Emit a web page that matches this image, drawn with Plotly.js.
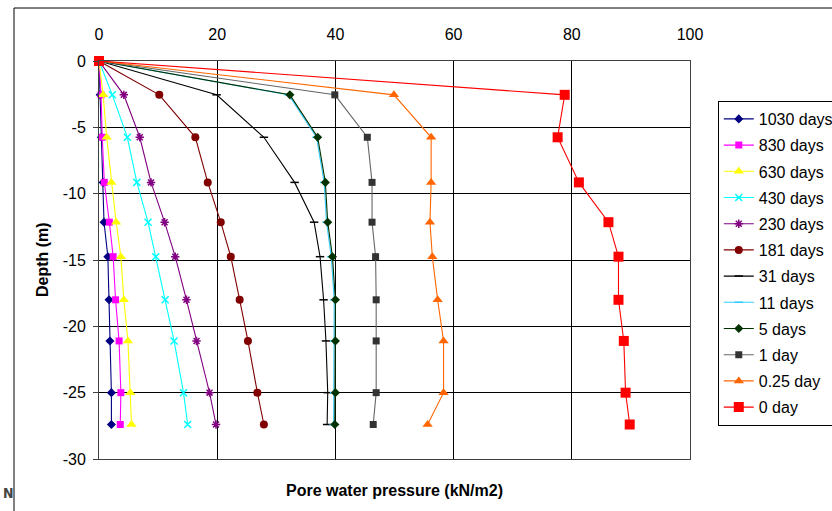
<!DOCTYPE html>
<html>
<head>
<meta charset="utf-8">
<script src="https://cdn.plot.ly/plotly-3.0.1.min.js"></script>
<style>html,body{margin:0;padding:0;background:#fff;}#chart{width:832px;height:511px;}</style>
</head>
<body>
<div id="chart"></div>
<script>
// Depth of measurement points (m)
var depth = [0, -2.55, -5.75, -9.15, -12.15, -14.75, -18, -21.1, -25, -27.4];

// Series names (legend order)
var seriesNames = ["1030 days", "830 days", "630 days", "430 days", "230 days", "181 days",
                   "31 days", "11 days", "5 days", "1 day", "0.25 day", "0 day"];

// Pore water pressure (kN/m2) for each series, at the depths above
var p1030 = [0, 0.2, 0.4, 0.7, 0.85, 1.5, 1.7, 1.85, 2.1, 2.1];
var p830  = [0, 0.35, 0.55, 0.9, 1.75, 2.4, 2.8, 3.4, 3.7, 3.6];
var p630  = [0, 0.7, 1.3, 2.1, 2.9, 3.7, 4.2, 4.9, 5.3, 5.5];
var p430  = [0, 2.25, 4.8, 6.4, 8.3, 9.6, 11.2, 12.7, 14.3, 15.0];
var p230  = [0, 4.2, 6.9, 8.8, 11.1, 12.9, 14.8, 16.5, 18.7, 19.8];
var p181  = [0, 10.2, 16.3, 18.4, 20.6, 22.3, 23.8, 25.2, 26.8, 27.9];
var p31   = [0, 19.9, 27.9, 33.1, 36.4, 37.4, 38.0, 38.4, 38.7, 38.6];
var p11   = [0, 32.1, 36.8, 38.1, 38.5, 39.3, 39.8, 39.8, 39.8, 39.7];
var p5    = [0, 32.3, 37.0, 38.3, 38.7, 39.5, 40.0, 40.0, 40.0, 39.9];
var p1    = [0, 39.9, 45.4, 46.2, 46.2, 46.8, 46.9, 46.9, 46.9, 46.4];
var p025  = [0, 49.9, 56.2, 56.2, 56.0, 56.4, 57.3, 58.3, 58.3, 55.6];
var p0    = [0, 78.8, 77.6, 81.2, 86.2, 87.9, 87.9, 88.8, 89.1, 89.8];

var seriesValues = [p1030, p830, p630, p430, p230, p181, p31, p11, p5, p1, p025, p0];

// Tick labels
var xTicks = [0, 20, 40, 60, 80, 100];
var yTicks = [0, -5, -10, -15, -20, -25, -30];
var yTickText = ["0", "-5", "-10", "-15", "-20", "-25", "-30"];

var styles = [
  {line: "#000080", mcolor: "#000080", symbol: "diamond", size: 7},
  {line: "#FF00FF", mcolor: "#FF00FF", symbol: "square", size: 7},
  {line: "#FFFF00", mcolor: "#FFFF00", symbol: "triangle-up", size: 9},
  {line: "#00FFFF", mcolor: "#00FFFF", symbol: "x-thin-open", size: 7, open: true},
  {line: "#800080", mcolor: "#800080", symbol: "asterisk-open", size: 7, open: true},
  {line: "#800000", mcolor: "#800000", symbol: "circle", size: 8},
  {line: "#000000", mcolor: "#000000", symbol: "line-ew-open", size: 6, open: true},
  {line: "#33CCFF", mcolor: "#33CCFF", symbol: "line-ew-open", size: 6, open: true},
  {line: "#003300", mcolor: "#003300", symbol: "diamond", size: 7},
  {line: "#666666", mcolor: "#333333", symbol: "square", size: 7},
  {line: "#FF6600", mcolor: "#FF6600", symbol: "triangle-up", size: 9},
  {line: "#FF0000", mcolor: "#FF0000", symbol: "square", size: 10}
];

var traces = seriesNames.map(function (name, i) {
  var s = styles[i];
  var marker = {symbol: s.symbol, size: s.size, color: s.mcolor};
  if (s.open) { marker.line = {color: s.mcolor, width: 1.5}; }
  else { marker.line = {width: 0}; }
  return {
    type: "scatter",
    mode: "lines+markers",
    name: name,
    legendgroup: "g" + i,
    x: seriesValues[i],
    y: depth,
    line: {color: s.line, width: 1.1},
    marker: marker,
    cliponaxis: false
  };
});

var font = "Liberation Sans, Arial, sans-serif";

var layout = {
  width: 832,
  height: 511,
  margin: {l: 99, r: 142, t: 61, b: 52, autoexpand: false},
  paper_bgcolor: "#ffffff",
  plot_bgcolor: "#ffffff",
  font: {family: font, size: 16, color: "#000"},
  showlegend: true,
  legend: {
    x: 1.047, xanchor: "left",
    y: 0.8995, yanchor: "top",
    bgcolor: "#ffffff",
    bordercolor: "#000000",
    borderwidth: 1,
    font: {family: font, size: 16, color: "#000"},
    tracegroupgap: 2.4,
    itemwidth: 30
  },
  xaxis: {
    side: "top",
    range: [0, 100],
    tickvals: xTicks,
    ticks: "",
    showgrid: true,
    gridcolor: "#000000",
    gridwidth: 1,
    showline: true,
    linecolor: "#404040",
    linewidth: 1,
    mirror: true,
    zeroline: false,
    ticklabelstandoff: 14,
    tickfont: {family: font, size: 16, color: "#000"}
  },
  yaxis: {
    range: [-30, 0],
    tickvals: yTicks,
    ticktext: yTickText,
    ticks: "outside",
    ticklen: 5,
    tickcolor: "#404040",
    showgrid: true,
    gridcolor: "#000000",
    gridwidth: 1,
    showline: true,
    linecolor: "#404040",
    linewidth: 1,
    mirror: true,
    zeroline: false,
    ticklabelstandoff: 4,
    tickfont: {family: font, size: 16, color: "#000"}
  },
  annotations: [
    {text: "<b>Pore water pressure (kN/m2)</b>", xref: "paper", yref: "paper",
     x: 0.5, y: -0.078, xanchor: "center", yanchor: "middle", showarrow: false,
     font: {family: font, size: 16, color: "#000"}},
    {text: "<b>Depth (m)</b>", xref: "paper", yref: "paper",
     x: -0.0964, y: 0.5, xanchor: "center", yanchor: "middle", textangle: -90, showarrow: false,
     font: {family: font, size: 16, color: "#000"}},
    {text: "<b>N</b>", xref: "paper", yref: "paper",
     x: (8 - 99) / 591, y: (459 - 493) / 398, xanchor: "center", yanchor: "middle", showarrow: false,
     font: {family: "DejaVu Sans Condensed, sans-serif", size: 14, color: "#444"}}
  ],
  shapes: [
    {type: "line", xref: "paper", yref: "paper", x0: (14 - 99) / 591, x1: (14 - 99) / 591,
     y0: (459 - 8) / 398, y1: -0.2, line: {color: "#000", width: 1}},
    {type: "line", xref: "paper", yref: "paper", x0: (14 - 99) / 591, x1: 1.3,
     y0: (459 - 8) / 398, y1: (459 - 8) / 398, line: {color: "#000", width: 1}}
  ]
};

Plotly.newPlot("chart", traces, layout, {staticPlot: true, displayModeBar: false});
</script>
</body>
</html>
